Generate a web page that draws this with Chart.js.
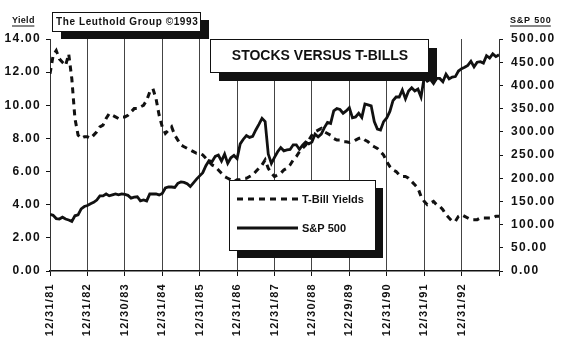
<!DOCTYPE html>
<html>
<head>
<meta charset="utf-8">
<script src="https://cdn.jsdelivr.net/npm/chart.js@4.4.1/dist/chart.umd.min.js"></script>
<style>
  body { margin: 0; background: #fff; }
  #wrap { width: 566px; height: 353px; }
</style>
</head>
<body>
<div id="wrap"><canvas id="myChart" width="566" height="353"></canvas></div>
<script>
// monthly readings, 12/31/81 .. 12/31/93
let tbill = [
  11.9,
  13.0, 13.3, 12.8, 12.6, 12.4, 13.1, 11.6, 9.2, 8.2, 8.0, 8.1, 8.1,
  8.0, 8.2, 8.4, 8.7, 8.8, 9.2, 9.5, 9.4, 9.3, 9.2, 9.3, 9.3,
  9.4, 9.6, 9.8, 9.8, 9.9, 10.0, 10.3, 10.8, 11.0, 10.4, 9.4, 8.7,
  8.3, 8.5, 8.7, 8.2, 7.9, 7.6, 7.5, 7.4, 7.3, 7.2, 7.1, 7.1,
  7.0, 6.8, 6.6, 6.4, 6.3, 6.1, 5.9, 5.7, 5.6, 5.5, 5.4, 5.5,
  5.5, 5.6, 5.6, 5.7, 5.8, 6.0, 6.2, 6.4, 6.7, 6.2, 5.9, 5.7,
  5.8, 5.9, 6.1, 6.2, 6.4, 6.7, 6.9, 7.2, 7.4, 7.6, 7.9, 8.2,
  8.4, 8.5, 8.6, 8.4, 8.3, 8.2, 8.0, 7.9, 7.9, 7.8, 7.8, 7.75,
  7.8, 7.9, 8.0, 8.05, 7.9, 7.8, 7.6, 7.5, 7.4, 7.2, 7.0, 6.6,
  6.3, 6.1, 6.0, 5.8, 5.7, 5.7, 5.6, 5.4, 5.2, 5.0, 4.5, 4.2,
  4.0, 4.1, 4.2, 4.0, 3.9, 3.7, 3.4, 3.2, 3.0, 3.0, 3.3, 3.4,
  3.3, 3.2, 3.1, 3.1, 3.1, 3.2, 3.2, 3.2, 3.2, 3.2, 3.3, 3.3
];

let spx = [
  122,
  120, 113, 112, 116, 112, 110, 107, 119, 121, 134, 139, 141,
  145, 148, 153, 162, 162, 166, 162, 164, 166, 164, 166, 165,
  163, 157, 159, 160, 151, 153, 151, 166, 166, 166, 164, 167,
  179, 181, 181, 180, 189, 192, 191, 188, 182, 190, 198, 205,
  212, 227, 238, 236, 247, 250, 237, 252, 232, 244, 249, 242,
  274, 284, 292, 288, 290, 304, 316, 329, 322, 252, 232, 245,
  257, 266, 259, 261, 262, 272, 272, 262, 271, 278, 274, 278,
  295, 289, 295, 309, 320, 318, 345, 350, 348, 340, 345, 352,
  330, 332, 340, 331, 360, 358, 356, 322, 306, 304, 322, 330,
  344, 367, 375, 375, 390, 371, 388, 395, 388, 392, 375, 417,
  409, 413, 404, 415, 415, 408, 424, 414, 418, 419, 431, 436,
  439, 443, 452, 440, 450, 451, 448, 464, 459, 468, 462, 466
];

let yearLabels = ["12/31/81", "12/31/82", "12/30/83", "12/31/84", "12/31/85", "12/31/86",
  "12/31/87", "12/30/88", "12/29/89", "12/31/90", "12/31/91", "12/31/92", ""];

let months = spx.map((v, i) => i);

const tickFont = { family: "'Liberation Sans', Arial, sans-serif", size: 12, weight: 'bold' };
const ink = '#111';

function shadowBox(ctx, x, y, w, h, dx, dy) {
  ctx.fillStyle = ink;
  ctx.fillRect(x + dx, y + dy, w, h);
  ctx.fillStyle = '#fff';
  ctx.fillRect(x, y, w, h);
  ctx.strokeStyle = ink;
  ctx.lineWidth = 1;
  ctx.strokeRect(x + 0.5, y + 0.5, w, h);
}

function caption(ctx, text, x, y, size, spacing, underline) {
  ctx.font = "bold " + size + "px 'Liberation Sans', Arial, sans-serif";
  ctx.letterSpacing = spacing + 'px';
  ctx.fillStyle = ink;
  ctx.textBaseline = 'middle';
  ctx.textAlign = 'left';
  ctx.fillText(text, x, y);
  if (underline) {
    let w = ctx.measureText(text).width - spacing;
    ctx.fillRect(x, y + size / 2, w, 1);
  }
}

const overlays = {
  id: 'overlays',
  beforeLayout(chart) {
    chart.ctx.letterSpacing = '1.3px';
  },
  beforeDraw(chart) {
    const ctx = chart.ctx;
    ctx.save();
    ctx.fillStyle = '#fff';
    ctx.fillRect(0, 0, chart.width, chart.height);
    ctx.restore();
    ctx.letterSpacing = '1.3px';
  },
  afterDraw(chart) {
    const ctx = chart.ctx;
    ctx.save();

    caption(ctx, 'Yield', 12, 21, 9, 0.3, true);
    caption(ctx, 'S&P 500', 510, 21, 9, 0.8, true);

    shadowBox(ctx, 52, 12, 148, 19, 9, 8);
    caption(ctx, 'The Leuthold Group \u00A91993', 56, 22, 10, 0.6, false);

    shadowBox(ctx, 210, 39, 218, 33, 9, 9);
    ctx.font = "bold 14px 'Liberation Sans', Arial, sans-serif";
    ctx.letterSpacing = '0px';
    ctx.textAlign = 'center';
    ctx.textBaseline = 'middle';
    ctx.fillStyle = ink;
    ctx.fillText('STOCKS VERSUS T-BILLS', 320, 56);

    // legend
    shadowBox(ctx, 229, 180, 146, 70, 8, 8);
    const rows = [199, 228];
    chart.data.datasets.forEach((ds, i) => {
      ctx.strokeStyle = ds.borderColor;
      ctx.lineWidth = ds.borderWidth;
      ctx.setLineDash(ds.borderDash || []);
      ctx.beginPath();
      ctx.moveTo(237, rows[i]);
      ctx.lineTo(298, rows[i]);
      ctx.stroke();
      ctx.setLineDash([]);
      caption(ctx, ds.label, 302, rows[i] + 1, 11, 0, false);
    });

    ctx.restore();
    ctx.letterSpacing = '1.3px';
  }
};

const ctx = document.getElementById('myChart');
new Chart(ctx, {
  type: 'line',
  data: {
    labels: months,
    datasets: [{
      label: 'T-Bill Yields',
      data: tbill,
      yAxisID: 'yLeft',
      borderColor: ink,
      borderWidth: 3,
      borderDash: [6, 5],
      pointRadius: 0,
      tension: 0
    }, {
      label: 'S&P 500',
      data: spx,
      yAxisID: 'yRight',
      borderColor: ink,
      borderWidth: 2.8,
      pointRadius: 0,
      tension: 0
    }]
  },
  options: {
    responsive: false,
    animation: false,
    layout: { padding: { top: 39, left: 0, right: 0, bottom: 0 } },
    plugins: {
      legend: { display: false },
      tooltip: { enabled: false }
    },
    scales: {
      x: {
        type: 'linear',
        min: 0,
        max: 144,
        afterFit(s) { s.height = 82; },
        afterBuildTicks(s) { s.ticks = yearLabels.map((l, i) => ({ value: i * 12 })); },
        ticks: {
          stepSize: 12,
          autoSkip: false,
          maxRotation: 90,
          minRotation: 90,
          padding: 7,
          color: ink,
          font: { family: tickFont.family, size: 11, weight: 'bold' },
          callback: (v) => yearLabels[v / 12] ?? ''
        },
        grid: {
          color: (c) => (c.tick && (c.tick.value === 0 || c.tick.value === 144)) ? 'rgba(0,0,0,0)' : '#444',
          lineWidth: 1,
          tickLength: 5,
          tickColor: ink
        },
        border: { color: ink, width: 1.5 }
      },
      yLeft: {
        position: 'left',
        min: 0,
        max: 14,
        afterFit(s) { s.width = 50; },
        ticks: {
          stepSize: 2,
          padding: 5,
          color: ink,
          font: tickFont,
          callback: (v) => v.toFixed(2)
        },
        grid: { drawOnChartArea: false, tickLength: 4, tickColor: ink },
        border: { color: '#333', width: 1, dash: [3, 2] }
      },
      yRight: {
        position: 'right',
        min: 0,
        max: 500,
        afterFit(s) { s.width = 67; },
        ticks: {
          stepSize: 50,
          padding: 8,
          color: ink,
          font: tickFont,
          callback: (v) => v.toFixed(2)
        },
        grid: { drawOnChartArea: false, tickLength: 4, tickColor: ink },
        border: { color: '#333', width: 1, dash: [3, 2] }
      }
    }
  },
  plugins: [overlays]
});
</script>
</body>
</html>
